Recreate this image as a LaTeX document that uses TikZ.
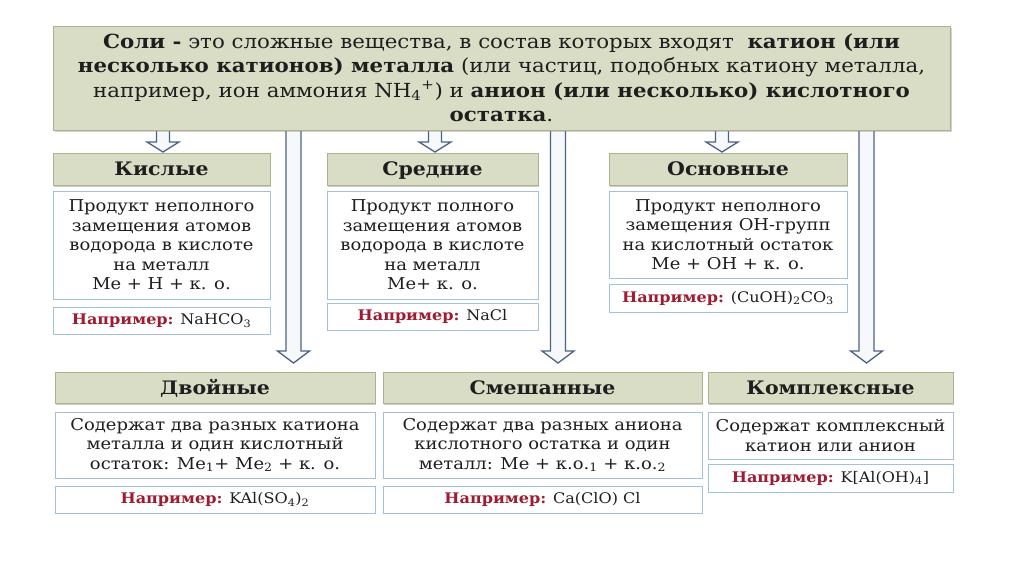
\documentclass[tikz,border=0pt]{standalone}
\usepackage{fontspec}
\setmainfont[FakeStretch=1.1]{DejaVu Serif}
\usetikzlibrary{calc,shadows}
\definecolor{hdrF}{HTML}{DADDC5}
\definecolor{hdrB}{HTML}{ADB18F}
\definecolor{descB}{HTML}{A3C2D5}
\definecolor{arrB}{HTML}{4C6385}
\definecolor{arrF}{HTML}{F6F8FC}
\definecolor{exRed}{HTML}{9E1B32}
\definecolor{txt}{HTML}{1E1E1E}
\newcommand{\hollowarr}[5]{%
  \draw[harr] let \p1=(#1), \p2=(#2) in
    (\x1-#3pt,\y1) -- (\x1-#3pt,\y2+#5pt) -- (\x1-#4pt,\y2+#5pt) -- (\x1,\y2)
    -- (\x1+#4pt,\y2+#5pt) -- (\x1+#3pt,\y2+#5pt) -- (\x1+#3pt,\y1) -- cycle;}
\newcommand{\ex}[1]{{\bfseries\color{exRed}Например:} #1}
\begin{document}
\begin{tikzpicture}[x=1pt,y=-1pt,
  harr/.style={draw=arrB,fill=arrF,line width=1.3pt,line join=miter},
  topbox/.style={draw=hdrB,fill=hdrF,line width=0.8pt,
    drop shadow={shadow xshift=1.5pt,shadow yshift=-2pt,opacity=0.35},
    inner sep=0pt,align=center,text=txt,font=\fontsize{19.4}{24.5}\selectfont},
  hdr/.style={draw=hdrB,fill=hdrF,line width=0.8pt,
    drop shadow={shadow xshift=1.2pt,shadow yshift=-1.8pt,opacity=0.4},
    inner sep=0pt,text height=13.5pt,text depth=0pt,text=txt,
    font=\bfseries\fontsize{18.6}{20}\selectfont},
  desc/.style={draw=descB,fill=white,line width=1pt,
    drop shadow={shadow xshift=1pt,shadow yshift=-1pt,opacity=0.2},
    inner sep=0pt,align=center,text=txt,font=\fontsize{16.3}{19.5}\selectfont},
  exbox/.style={desc,font=\fontsize{14.6}{19.5}\selectfont},
]
\useasboundingbox (0,0) rectangle (1024,574);
\fill[white] (0,0) rectangle (1024,574);

% arrow coordinates
\coordinate (s1) at (163,128); \coordinate (e1) at (163,152);
\coordinate (s2) at (435,128); \coordinate (e2) at (435,152);
\coordinate (s3) at (722,128); \coordinate (e3) at (722,152);
\coordinate (l1s) at (293.5,128); \coordinate (l1e) at (293.5,363);
\coordinate (l2s) at (558,128); \coordinate (l2e) at (558,363);
\coordinate (l3s) at (866.5,128); \coordinate (l3e) at (866.5,363);

\hollowarr{s1}{e1}{6.5}{16}{10}
\hollowarr{s2}{e2}{6.5}{16}{10}
\hollowarr{s3}{e3}{6.5}{16}{10}
\hollowarr{l1s}{l1e}{7.5}{16}{12}
\hollowarr{l2s}{l2e}{7.5}{16}{12}
\hollowarr{l3s}{l3e}{7.5}{16}{12}

\node[topbox,minimum width=897,minimum height=104] (top) at (501.5,78)
 {\textbf{Соли -} это сложные вещества, в состав которых входят \ \textbf{катион (или}\\
  \textbf{несколько катионов) металла} (или частиц, подобных катиону металла,\\
  например, ион аммония NH\textsubscript{4}\textsuperscript{+}) и \textbf{анион (или несколько) кислотного}\\
  \textbf{остатка}.};

% row 1
\node[hdr,minimum width=217,minimum height=32] (kisH) at (161.5,169) {Кислые};
\node[desc,minimum width=217,minimum height=108] (kisD) at (161.5,245)
 {Продукт неполного\\замещения атомов\\водорода в кислоте\\на металл\\Ме + Н + к. о.};
\node[exbox,minimum width=217,minimum height=27] (kisE) at (161.5,320.5) {\ex{NaHCO\textsubscript{3}}};

\node[hdr,minimum width=211,minimum height=32] (sreH) at (432.5,169) {Средние};
\node[desc,minimum width=211,minimum height=108] (sreD) at (432.5,245)
 {Продукт полного\\замещения атомов\\водорода в кислоте\\на металл\\Ме+ к. о.};
\node[exbox,minimum width=211,minimum height=27] (sreE) at (432.5,316.5) {\ex{NaCl}};

\node[hdr,minimum width=238,minimum height=32] (osnH) at (728,169) {Основные};
\node[desc,minimum width=238,minimum height=87] (osnD) at (728,234.5)
 {Продукт неполного\\замещения ОН-групп\\на кислотный остаток\\Ме + ОН + к. о.};
\node[exbox,minimum width=238,minimum height=28] (osnE) at (728,298) {\ex{(CuOH)\textsubscript{2}CO\textsubscript{3}}};

% row 2
\node[hdr,minimum width=320,minimum height=31] (dvoH) at (215,387.5) {Двойные};
\node[desc,minimum width=320,minimum height=66] (dvoD) at (215,445)
 {Содержат два разных катиона\\металла и один кислотный\\остаток: Ме\textsubscript{1}+ Ме\textsubscript{2} + к. о.};
\node[exbox,minimum width=320,minimum height=27] (dvoE) at (215,499.5) {\ex{KAl(SO\textsubscript{4})\textsubscript{2}}};

\node[hdr,minimum width=319,minimum height=31] (smeH) at (542.5,387.5) {Смешанные};
\node[desc,minimum width=319,minimum height=66] (smeD) at (542.5,445)
 {Содержат два разных аниона\\кислотного остатка и один\\металл: Ме + к.о.\textsubscript{1} + к.о.\textsubscript{2}};
\node[exbox,minimum width=319,minimum height=27] (smeE) at (542.5,499.5) {\ex{Ca(ClO) Cl}};

\node[hdr,minimum width=245,minimum height=31] (komH) at (830.5,387.5) {Комплексные};
\node[desc,minimum width=245,minimum height=47] (komD) at (830.5,435.5)
 {Содержат комплексный\\катион или анион};
\node[exbox,minimum width=245,minimum height=28] (komE) at (830.5,478) {\ex{K[Al(OH)\textsubscript{4}]}};
\end{tikzpicture}
\end{document}
